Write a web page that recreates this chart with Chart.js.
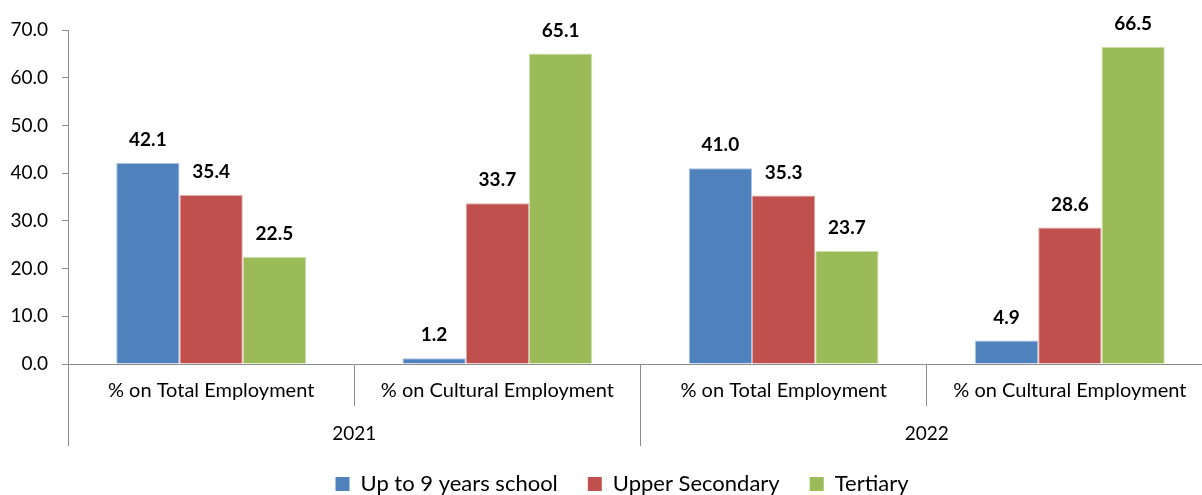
<!DOCTYPE html>
<html>
<head>
<meta charset="utf-8">
<script src="https://cdn.jsdelivr.net/npm/chart.js@4/dist/chart.umd.min.js"></script>
<style>
  html, body { margin: 0; padding: 0; overflow: hidden; background: #fff; }
  #wrap { width: 1236px; height: 505px; }
</style>
</head>
<body>
<div id="wrap"><canvas id="chart" width="1236" height="505"></canvas></div>
<script>
// Education level shares of employment, by indicator and year
const categories = ['% on Total Employment', '% on Cultural Employment', '% on Total Employment', '% on Cultural Employment'];
const years = ['2021', '2022'];
const seriesNames = ['Up to 9 years school', 'Upper Secondary', 'Tertiary'];
const upTo9Years = [42.1, 1.2, 41.0, 4.9];
const upperSecondary = [35.4, 33.7, 35.3, 28.6];
const tertiary = [22.5, 65.1, 23.7, 66.5];
const yTicks = [0, 10, 20, 30, 40, 50, 60, 70];

const colors = ['#4F81BD', '#C0504D', '#9BBB59'];
const edgeColors = ['#A9C2E0', '#E2ABA9', '#CEDFAE'];
const axisGray = '#8C8C8C';
const FONT = 'Lato, "Open Sans", sans-serif';

// Bold value printed above each bar
const valueLabels = {
  id: 'valueLabels',
  afterDatasetsDraw(chart) {
    const ctx = chart.ctx;
    ctx.save();
    ctx.font = 'bold 19px ' + FONT;
    ctx.fillStyle = '#000';
    ctx.textAlign = 'center';
    ctx.textBaseline = 'middle';
    chart.data.datasets.forEach((ds, i) => {
      chart.getDatasetMeta(i).data.forEach((bar, j) => {
        ctx.fillText(ds.data[j].toFixed(1), bar.x, bar.y - 23);
      });
    });
    ctx.restore();
  }
};

const seriesData = [upTo9Years, upperSecondary, tertiary];

new Chart(document.getElementById('chart'), {
  type: 'bar',
  data: {
    labels: categories,
    datasets: seriesNames.map((name, i) => ({
      label: name,
      data: seriesData[i],
      backgroundColor: colors[i],
      borderColor: edgeColors[i],
      borderWidth: 1,
      categoryPercentage: 0.663,
      barPercentage: 1.0,
      xAxisID: 'x',
      yAxisID: 'y'
    }))
  },
  options: {
    responsive: false,
    animation: false,
    devicePixelRatio: 1,
    layout: { padding: { left: 10, right: 2, top: 30, bottom: 0 } },
    plugins: {
      legend: {
        position: 'bottom',
        labels: {
          boxWidth: 14,
          boxHeight: 14,
          padding: 30,
          color: '#000',
          font: { family: FONT, size: 22 },
          generateLabels(chart) {
            return chart.data.datasets.map((ds, i) => ({
              text: ds.label,
              fillStyle: colors[i],
              strokeStyle: colors[i],
              lineWidth: 0,
              fontColor: '#000',
              datasetIndex: i
            }));
          }
        }
      },
      tooltip: { enabled: false }
    },
    scales: {
      y: {
        min: 0,
        max: 70,
        afterBuildTicks(scale) { scale.ticks = yTicks.map(v => ({ value: v })); },
        afterFit(scale) { scale.width = 58; },
        ticks: {
          padding: 14,
          color: '#000',
          font: { family: FONT, size: 19 },
          callback: v => Number(v).toFixed(1)
        },
        grid: { drawOnChartArea: false, tickLength: 6, color: axisGray, lineWidth: 1 },
        border: { display: true, color: axisGray, width: 1 }
      },
      // empty right-hand strip; the plot runs past the visible edge
      edge: {
        type: 'linear',
        position: 'right',
        display: true,
        afterFit(scale) { scale.width = 21; },
        ticks: { display: false },
        grid: { display: false },
        border: { display: false }
      },
      x: {
        type: 'category',
        weight: 1,
        offset: true,
        afterFit(scale) { scale.height = 42; },
        ticks: {
          autoSkip: false,
          maxRotation: 0,
          minRotation: 0,
          padding: -27,
          color: '#000',
          font: { family: FONT, size: 20 }
        },
        grid: { offset: true, drawOnChartArea: false, tickLength: 42, color: axisGray, lineWidth: 1 },
        border: { display: true, color: axisGray, width: 1 }
      },
      x2: {
        type: 'category',
        position: 'bottom',
        labels: years,
        weight: 2,
        offset: true,
        afterFit(scale) { scale.height = 37; },
        ticks: {
          mirror: true,
          autoSkip: false,
          maxRotation: 0,
          minRotation: 0,
          padding: -39,
          color: '#000',
          font: { family: FONT, size: 19 }
        },
        grid: { offset: true, drawOnChartArea: false, tickLength: 40, color: axisGray, lineWidth: 1 },
        border: { display: false }
      }
    }
  },
  plugins: [valueLabels]
});
</script>
</body>
</html>
